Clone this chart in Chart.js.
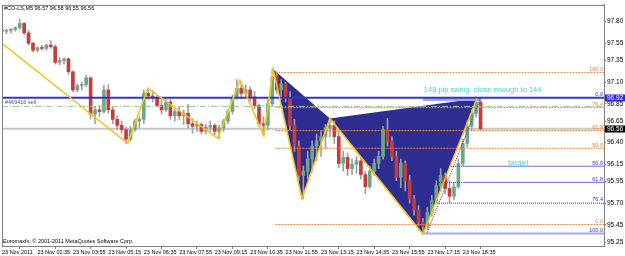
<!DOCTYPE html>
<html>
<head>
<meta charset="utf-8">
<script src="https://cdn.jsdelivr.net/npm/chart.js@4.4.1/dist/chart.umd.min.js"></script>
<style>
  html, body { margin: 0; padding: 0; background: #fff; }
  canvas { display: block; }
</style>
</head>
<body>
<canvas id="chart" width="625" height="256"></canvas>
<script>
// candles, one per 10 minutes
const opens = [97.70,97.69,97.70,97.71,97.73,97.78,97.67,97.55,97.47,97.50,
  97.49,97.53,97.51,97.33,97.35,97.37,97.22,97.01,97.06,97.07,
  97.15,96.73,96.78,96.76,97.01,96.78,96.67,96.60,96.55,96.44,
  96.55,96.65,96.67,96.97,96.94,96.92,96.83,96.78,96.87,96.71,
  96.76,96.71,96.74,96.62,96.59,96.61,96.53,96.58,96.60,96.53,
  96.57,96.65,96.76,96.92,97.03,96.97,97.01,96.93,96.83,96.62,
  96.60,96.85,97.16,97.01,97.08,96.92,96.60,96.36,96.02,96.07,
  96.21,96.36,96.42,96.47,96.57,96.60,96.47,96.16,96.23,96.10,
  96.15,96.19,96.03,95.89,96.07,96.16,96.24,96.55,96.42,96.24,
  96.00,96.16,95.96,95.75,95.62,95.48,95.43,95.59,95.73,95.90,
  96.02,95.87,95.78,95.89,96.16,96.39,96.59,96.74,96.87];
const highs = [97.72,97.71,97.72,97.74,97.83,97.79,97.70,97.56,97.51,97.53,
  97.54,97.58,97.53,97.39,97.38,97.38,97.23,97.08,97.10,97.18,
  97.16,96.82,96.83,97.06,97.07,96.81,96.71,96.65,96.58,96.59,
  96.67,96.70,97.01,97.03,97.00,96.95,96.90,96.91,96.90,96.79,
  96.81,96.78,96.84,96.68,96.65,96.63,96.61,96.65,96.62,96.60,
  96.67,96.78,96.95,97.13,97.10,97.07,97.05,96.99,96.85,96.70,
  96.90,97.25,97.22,97.13,97.10,96.99,96.67,96.42,96.13,96.30,
  96.42,96.50,96.53,96.61,96.67,96.65,96.53,96.30,96.28,96.21,
  96.24,96.22,96.07,96.13,96.21,96.30,96.59,96.68,96.47,96.30,
  96.21,96.19,96.02,95.79,95.67,95.52,95.65,95.79,95.96,96.10,
  96.05,95.96,95.94,96.21,96.44,96.65,96.78,96.93,96.90];
const lows = [97.67,97.66,97.67,97.69,97.71,97.65,97.53,97.45,97.45,97.47,
  97.47,97.49,97.31,97.30,97.31,97.19,96.99,96.99,97.01,97.05,
  96.68,96.62,96.70,96.74,96.74,96.62,96.55,96.51,96.39,96.42,
  96.53,96.57,96.62,96.90,96.87,96.81,96.73,96.76,96.67,96.65,
  96.67,96.61,96.57,96.51,96.53,96.50,96.50,96.53,96.49,96.45,
  96.53,96.62,96.73,96.90,96.91,96.93,96.87,96.79,96.59,96.49,
  96.55,96.82,96.97,96.90,96.87,96.55,96.30,95.96,95.75,95.98,
  96.07,96.19,96.24,96.34,96.47,96.39,96.11,96.07,96.02,96.03,
  96.05,95.98,95.81,95.87,96.02,96.10,96.21,96.36,96.19,95.96,
  95.88,95.84,95.70,95.56,95.44,95.34,95.39,95.55,95.70,95.84,
  95.81,95.70,95.74,95.87,96.13,96.35,96.55,96.70,96.55];
const closes = [97.69,97.70,97.71,97.73,97.78,97.67,97.55,97.47,97.50,97.49,
  97.53,97.51,97.33,97.35,97.37,97.22,97.01,97.06,97.07,97.15,
  96.73,96.78,96.76,97.01,96.78,96.67,96.60,96.55,96.44,96.55,
  96.65,96.67,96.97,96.94,96.92,96.83,96.78,96.87,96.71,96.76,
  96.71,96.74,96.62,96.59,96.61,96.53,96.58,96.60,96.53,96.57,
  96.65,96.76,96.92,97.03,96.97,97.01,96.93,96.83,96.62,96.60,
  96.85,97.16,97.01,97.08,96.92,96.60,96.36,96.02,96.07,96.21,
  96.36,96.42,96.47,96.57,96.60,96.47,96.16,96.23,96.10,96.15,
  96.19,96.03,95.89,96.07,96.16,96.24,96.55,96.42,96.24,96.00,
  96.16,95.96,95.75,95.62,95.48,95.43,95.59,95.73,95.90,96.02,
  95.87,95.78,95.89,96.16,96.39,96.59,96.74,96.87,96.56];

const timeTicks = [0, 8, 16, 24, 32, 40, 48, 56, 64, 72, 80, 88, 96, 104];
const timeLabels = ["23 Nov 2011", "23 Nov 02:35", "23 Nov 03:55", "23 Nov 05:15", "23 Nov 06:35",
  "23 Nov 07:55", "23 Nov 09:15", "23 Nov 10:35", "23 Nov 11:55", "23 Nov 13:15",
  "23 Nov 14:35", "23 Nov 15:55", "23 Nov 17:15", "23 Nov 18:35"];
const priceTicks = [97.80, 97.55, 97.35, 97.10, 96.85, 96.65, 96.40, 96.15, 95.95, 95.70, 95.45, 95.25];

// zigzag swings (bar, price)
const swingBars   = [0, 28.4, 32.9, 48.7, 53.7, 59.1];
const swingPrices = [97.55, 96.39, 97.03, 96.45, 97.12, 96.48];
// harmonic pattern X A B C D
const patBars   = [61.2, 67.7, 74.0, 95.0, 107.2];
const patPrices = [97.25, 95.75, 96.68, 95.34, 96.91];

// fibonacci levels
const fibOrangePrices = [97.21, 96.805, 96.54, 96.335, 95.452];
const fibOrangeLabels = ["100.0", "76.4", "61.8", "50.0", "0.0"];
const fibBluePrices = [96.92, 96.127, 95.94, 95.70, 95.35];
const fibBlueLabels = ["0.0", "50.0", "61.8", "76.4", "100.0"];

const resistance = 96.92;
const orderPrice = 96.82;
const bidPrice = 96.56;

const X_MAX = 135.86;
const BULL = '#6aa88a', BEAR = '#c43c3c';
const FONT = '"Liberation Sans", Arial, sans-serif';

function hLine(price, from, to, color, width, dash, order) {
  return {
    type: 'line',
    data: [{x: from, y: price}, {x: to, y: price}],
    borderColor: color, borderWidth: width, borderDash: dash || [],
    pointRadius: 0, order: order
  };
}

const wickData = opens.map((o, i) => ({x: i, y: [lows[i], highs[i]]}));
const bodyData = opens.map((o, i) => ({x: i, y: [o, closes[i]]}));
const bodyColors = opens.map((o, i) => closes[i] >= o ? BULL : BEAR);

const pts = (bars, prices) => bars.map((b, i) => ({x: b, y: prices[i]}));
const tri1 = pts([patBars[0], patBars[1], patBars[2], patBars[0]],
                 [patPrices[0], patPrices[1], patPrices[2], patPrices[0]]);
const tri2 = pts([patBars[2], patBars[3], patBars[4], patBars[2]],
                 [patPrices[2], patPrices[3], patPrices[4], patPrices[2]]);

const datasets = [];
datasets.push(hLine(bidPrice, 0, X_MAX, '#c8c8c8', 2, [], 30));
[tri1, tri2].forEach(t => datasets.push({
  type: 'line', data: t, fill: 'shape', backgroundColor: '#2e2e92',
  borderColor: 'rgba(0,0,0,0)', borderWidth: 0, pointRadius: 0, order: 20
}));
datasets.push({
  type: 'bar', data: wickData, backgroundColor: '#a0a0a0',
  barThickness: 1, grouped: false, order: 6
});
datasets.push({
  type: 'bar', data: bodyData, backgroundColor: bodyColors,
  barThickness: 3, grouped: false, minBarLength: 1, order: 5
});
fibOrangePrices.forEach(p => datasets.push(hLine(p, patBars[0] + 0.5, X_MAX, '#e8843f', 1, [2, 1], 4)));
// blue fib from C to D
datasets.push(hLine(fibBluePrices[0] - 0.02, patBars[3], patBars[4] + 1, '#a4a4f2', 3, [], 3.5));
datasets.push(hLine(fibBluePrices[1], patBars[3], 104, '#2a2acc', 1, [1, 1], 4));
datasets.push(hLine(fibBluePrices[1], 104, X_MAX, '#6b6be2', 1, [], 4));
datasets.push(hLine(fibBluePrices[2], patBars[3], 104, '#2a2acc', 1, [1, 1], 4));
datasets.push(hLine(fibBluePrices[2], 104, X_MAX, '#6b6be2', 1, [], 4));
datasets.push(hLine(fibBluePrices[3], patBars[3], X_MAX, '#2a2acc', 1, [1, 1], 4));
datasets.push(hLine(fibBluePrices[4], patBars[3], X_MAX, '#aaaaf0', 2, [], 4));
datasets.push(hLine(orderPrice, 0, X_MAX, '#8ccc8c', 1, [6, 2, 1, 2], 3));
datasets.push(hLine(resistance, 0, X_MAX, '#3434c8', 2, [], 2));
datasets.push({
  type: 'line', data: pts([patBars[3] + 0.9, patBars[4] + 0.9], [patPrices[3] + 0.01, fibBluePrices[0] + 0.01]),
  borderColor: '#3030d0', borderWidth: 1, borderDash: [1, 1], pointRadius: 0, order: 1
});
datasets.push({
  type: 'line',
  data: pts(swingBars.concat(patBars), swingPrices.concat(patPrices)),
  borderColor: '#f4c41c', borderWidth: 1.6, pointRadius: 0, order: 0
});

const notes = {
  id: 'notes',
  afterDraw(chart) {
    const {ctx, chartArea: a, scales: {x, y}} = chart;
    ctx.save();
    ctx.strokeStyle = '#808080';
    ctx.lineWidth = 1;
    ctx.strokeRect(a.left + 0.5, a.top + 0.5, a.right - a.left, a.bottom - a.top);

    ctx.textBaseline = 'middle';
    ctx.textAlign = 'left';
    ctx.fillStyle = '#000';
    ctx.font = '5.5px ' + FONT;
    ctx.fillText('#CO-LS,M5 96.57 96.58 96.55 96.56', a.left + 2, a.top + 4);
    ctx.fillText('Euromaxfx, \u00a9 2001-2011 MetaQuotes Software Corp.', a.left + 1, a.bottom - 4.5);
    ctx.fillStyle = '#555';
    ctx.fillText('#469416 sell', a.left + 3, y.getPixelForValue(orderPrice) - 4);

    ctx.fillStyle = '#44d2d2';
    ctx.font = '7.5px ' + FONT;
    ctx.fillText('148 pip swing, close enough to 144', x.getPixelForValue(95.2), y.getPixelForValue(97.01));
    ctx.font = '8px ' + FONT;
    ctx.fillText('target', x.getPixelForValue(114.2), y.getPixelForValue(96.17));

    // fib level labels
    ctx.font = '5.5px ' + FONT;
    ctx.textAlign = 'right';
    ctx.textBaseline = 'bottom';
    ctx.fillStyle = '#e8843f';
    fibOrangePrices.forEach((p, i) => ctx.fillText(fibOrangeLabels[i], a.right - 1, y.getPixelForValue(p) - 0.5));
    ctx.fillStyle = '#3434c8';
    fibBluePrices.forEach((p, i) => ctx.fillText(fibBlueLabels[i], a.right - 1, y.getPixelForValue(p) - 0.5));

    // price boxes on the axis
    [[resistance, '#2a2ad0'], [bidPrice, '#000']].forEach(([p, bg]) => {
      const py = Math.round(y.getPixelForValue(p));
      ctx.fillStyle = bg;
      ctx.fillRect(a.right + 1, py - 3.5, 20, 7);
      ctx.fillStyle = '#fff';
      ctx.textAlign = 'left';
      ctx.textBaseline = 'middle';
      ctx.font = '6.5px ' + FONT;
      ctx.fillText(p.toFixed(2), a.right + 3, py);
    });
    ctx.restore();
  }
};

new Chart(document.getElementById('chart'), {
  type: 'bar',
  data: { datasets: datasets },
  options: {
    responsive: false,
    animation: false,
    devicePixelRatio: 1,
    layout: { padding: { left: 2, top: 2, right: 0, bottom: 0 } },
    elements: { point: { radius: 0 }, line: { tension: 0 } },
    plugins: { legend: { display: false }, tooltip: { enabled: false } },
    scales: {
      x: {
        type: 'linear', min: 0, max: X_MAX, offset: false,
        grid: { drawOnChartArea: false, tickLength: 3, color: '#808080' },
        border: { color: '#808080' },
        afterBuildTicks: s => { s.ticks = timeTicks.map(v => ({value: v})); },
        afterFit: s => { s.height = 10; },
        ticks: {
          align: 'start', padding: 0, maxRotation: 0, autoSkip: false, color: '#000',
          font: { size: 5.5, family: FONT },
          callback: v => timeLabels[timeTicks.indexOf(v)]
        }
      },
      y: {
        type: 'linear', position: 'right', min: 95.204, max: 97.994,
        grid: { drawOnChartArea: false, tickLength: 2, color: '#808080' },
        border: { color: '#808080' },
        afterBuildTicks: s => { s.ticks = priceTicks.map(v => ({value: v})); },
        afterFit: s => { s.width = 21; },
        ticks: {
          padding: 1, autoSkip: false, color: '#000',
          font: { size: 6.5, family: FONT },
          callback: v => v.toFixed(2)
        }
      }
    }
  },
  plugins: [notes]
});
</script>
</body>
</html>
